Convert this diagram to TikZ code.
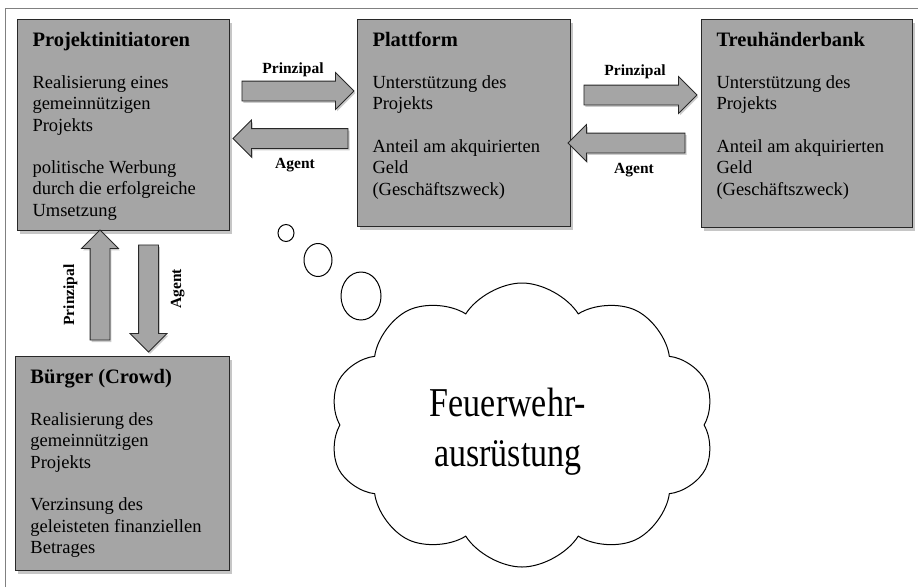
\documentclass[tikz,border=0pt]{standalone}
\usepackage{fontspec}
\setmainfont{Liberation Serif}
\newfontfamily\wolkefont[FakeStretch=0.83]{Liberation Serif}
\usetikzlibrary{positioning}
\usetikzlibrary{shapes.arrows, shapes.geometric, shapes.symbols}
\usetikzlibrary{shadows}
\definecolor{boxgray}{RGB}{165,165,165}
\definecolor{randgray}{RGB}{40,40,40}
\tikzset{>=latex}

% Inhalt eines Akteurs: Breite, Hoehe, Titel, Text
\newcommand{\akteurinhalt}[4]{%
  \begin{minipage}[t][#2][t]{#1}\raggedright
  \rule{0pt}{27pt}{\fontsize{20.5}{21.3}\selectfont\bfseries #3}\\[20.7pt]
  #4
  \end{minipage}}

\begin{document}
\begin{tikzpicture}[
            x=1pt, y=-1pt,
            akteur/.style={rectangle, draw=randgray, fill=boxgray, line width=1pt, anchor=north west,
                inner xsep=15pt, inner ysep=0pt, font=\fontsize{18.5}{21.3}\selectfont,
                drop shadow={shadow xshift=2pt, shadow yshift=-3pt, opacity=0.45}},
            pfeil/.style={single arrow, draw=randgray, fill=boxgray, line width=0.8pt, inner xsep=0pt,
                inner ysep=9.5pt, single arrow head extend=8.5pt,
                drop shadow={shadow xshift=1.5pt, shadow yshift=-2pt, opacity=0.4}},
            lbl/.style={font=\fontsize{15.5}{16}\selectfont\bfseries, anchor=base, inner sep=0pt},
            blase/.style={ellipse, draw=black, fill=white, line width=1pt, inner sep=0pt},
            wolke/.style={cloud, cloud puffs=10, cloud puff arc=115, draw=black, fill=white, line width=1pt,
                minimum width=386pt, minimum height=284pt, inner sep=0pt}
        ]
        \useasboundingbox (0,0) rectangle (918,587);
        \draw[gray, line width=1pt] (5,587) -- (5,8) -- (918,8);
        % Akteure
        \node[akteur] (proj) at (17,19) {\akteurinhalt{182pt}{211pt}{Projektinitiatoren}{%
            Realisierung eines\\ gemeinnützigen\\ Projekts\\[21pt]
            politische Werbung\\ durch die erfolgreiche\\ Umsetzung}};
        \node[akteur] (platt) at (357,19) {\akteurinhalt{183pt}{207pt}{Plattform}{%
            Unterstützung des\\ Projekts\\[21.3pt]
            Anteil am akquirierten\\ Geld\\ (Geschäftszweck)}};
        \node[akteur] (treu) at (701,19) {\akteurinhalt{181pt}{208pt}{Treuhänderbank}{%
            Unterstützung des\\ Projekts\\[21.3pt]
            Anteil am akquirierten\\ Geld\\ (Geschäftszweck)}};
        \node[akteur] (buerger) at (15,356) {\akteurinhalt{184pt}{214pt}{Bürger (Crowd)}{%
            Realisierung des\\ gemeinnützigen\\ Projekts\\[21.3pt]
            Verzinsung des\\ geleisteten finanziellen\\ Betrages}};
        % Pfeile
        \node[pfeil, minimum height=112pt] (p1) at (293,91) {};
        \node[pfeil, minimum height=115pt, rotate=180] (a1) at (295.5,138.5) {};
        \node[pfeil, minimum height=113pt] (p2) at (635.5,95) {};
        \node[pfeil, minimum height=117pt, rotate=180] (a2) at (631.5,143) {};
        \node[pfeil, minimum height=110pt, rotate=90] (p3) at (100,290) {};
        \node[pfeil, minimum height=107pt, rotate=-90] (a3) at (148.5,293.5) {};
        \node[lbl] (prinzipal1) at (293,73) {Prinzipal};
        \node[lbl] (agent1) at (295,168) {Agent};
        \node[lbl] (prinzipal2) at (635,75) {Prinzipal};
        \node[lbl] (agent2) at (634,173) {Agent};
        \node[lbl, rotate=90] (prinzipal3) at (74,295) {Prinzipal};
        \node[lbl, rotate=90] (agent3) at (181,289) {Agent};
        % Gedankenblase
        \node[blase, minimum width=16pt, minimum height=17pt] (blase1) at (286,233) {};
        \node[blase, minimum width=28pt, minimum height=33pt] (blase2) at (318,260) {};
        \node[blase, minimum width=40pt, minimum height=48pt] (blase3) at (361,296) {};
        \node[wolke] (wolke) at (522,425) {};
        \node[align=center, inner sep=0pt, font=\wolkefont\fontsize{41}{50}\selectfont] (feuer) at (508,432)
            {Feuerwehr-\\ausrüstung};
\end{tikzpicture}
\end{document}
